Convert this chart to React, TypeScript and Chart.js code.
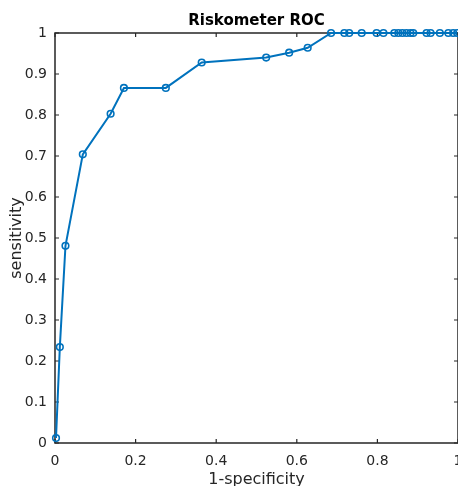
import React, { useEffect, useRef } from "react";
import { Chart, registerables } from "chart.js";

Chart.register(...registerables);

const fpr = [0.0025, 0.012, 0.026, 0.069, 0.138, 0.171, 0.275, 0.364, 0.524, 0.581, 0.627, 0.685, 0.718, 0.73, 0.761, 0.798, 0.815, 0.842, 0.852, 0.862, 0.872, 0.882, 0.889, 0.922, 0.932, 0.955, 0.976, 0.988, 0.998];
const tpr = [0.012, 0.234, 0.481, 0.704, 0.803, 0.866, 0.866, 0.928, 0.94, 0.952, 0.964, 1, 1, 1, 1, 1, 1, 1, 1, 1, 1, 1, 1, 1, 1, 1, 1, 1, 1];
const xTicks = [0, 0.2, 0.4, 0.6, 0.8, 1];
const yTicks = [0, 0.1, 0.2, 0.3, 0.4, 0.5, 0.6, 0.7, 0.8, 0.9, 1];
const titleText = "Riskometer ROC";
const xTitle = "1-specificity";
const yTitle = "sensitivity";

const AXIS = "#262626";
const BLUE = "#0072BD";
const FONT = "'DejaVu Sans', sans-serif";

const boxPlugin = {
  id: "matlabBox",
  beforeDatasetsDraw(chart: any) {
    const { ctx, chartArea } = chart;
    const xs = chart.scales.x;
    const ys = chart.scales.y;
    const { left, right, top, bottom } = chartArea;
    ctx.save();
    ctx.strokeStyle = AXIS;
    ctx.lineWidth = 1.5;
    ctx.beginPath();
    ctx.rect(left, top, right - left, bottom - top);
    ctx.stroke();
    ctx.lineWidth = 1.2;
    const tl = 4;
    ctx.beginPath();
    xTicks.forEach((v) => {
      const px = xs.getPixelForValue(v);
      ctx.moveTo(px, bottom);
      ctx.lineTo(px, bottom - tl);
      ctx.moveTo(px, top);
      ctx.lineTo(px, top + tl);
    });
    yTicks.forEach((v) => {
      const py = ys.getPixelForValue(v);
      ctx.moveTo(left, py);
      ctx.lineTo(left + tl, py);
      ctx.moveTo(right, py);
      ctx.lineTo(right - tl, py);
    });
    ctx.stroke();
    ctx.restore();
  },
};

export default function App() {
  const ref = useRef<HTMLCanvasElement>(null);
  useEffect(() => {
    if (!ref.current) return;
    const points = fpr.map((x, i) => ({ x, y: tpr[i] }));
    const chart = new Chart(ref.current, {
      type: "scatter",
      data: {
        datasets: [
          {
            data: points,
            showLine: true,
            borderColor: BLUE,
            borderWidth: 2,
            pointRadius: 3.3,
            pointBorderWidth: 1.6,
            pointBorderColor: BLUE,
            pointBackgroundColor: "rgba(0,0,0,0)",
            clip: false as any,
          },
        ],
      },
      options: {
        animation: false,
        responsive: false,
        maintainAspectRatio: false,
        layout: { padding: 0, autoPadding: false },
        plugins: {
          legend: { display: false },
          tooltip: { enabled: false },
          title: {
            display: true,
            fullSize: false,
            text: titleText,
            color: "#000",
            font: { family: FONT, size: 15, weight: "bold" },
            padding: { top: 12, bottom: 3 },
          },
        },
        scales: {
          x: {
            type: "linear",
            min: 0,
            max: 1,
            grid: { display: false, drawTicks: false },
            border: { display: false },
            afterBuildTicks(scale: any) {
              scale.ticks = xTicks.map((v) => ({ value: v }));
            },
            afterFit(scale: any) {
              scale.height = 43;
              scale.paddingLeft = 0;
              scale.paddingRight = 0;
            },
            ticks: {
              color: AXIS,
              font: { family: FONT, size: 14 },
              padding: 10,
              maxRotation: 0,
              callback: (v: any) => String(v),
            },
            title: {
              display: true,
              text: xTitle,
              color: AXIS,
              font: { family: FONT, size: 16 },
              padding: { top: 0, bottom: -3 },
            },
          },
          y: {
            type: "linear",
            min: 0,
            max: 1,
            grid: { display: false, drawTicks: false },
            border: { display: false },
            afterBuildTicks(scale: any) {
              scale.ticks = yTicks.map((v) => ({ value: v }));
            },
            afterFit(scale: any) {
              scale.width = 55;
              scale.paddingTop = 0;
              scale.paddingBottom = 0;
            },
            ticks: {
              color: AXIS,
              font: { family: FONT, size: 14 },
              padding: 8,
              callback: (v: any) => String(v),
            },
            title: {
              display: true,
              text: yTitle,
              color: AXIS,
              font: { family: FONT, size: 16 },
              padding: { top: 7, bottom: 0 },
            },
          },
        },
      },
      plugins: [boxPlugin],
    });
    return () => chart.destroy();
  }, []);
  return (
    <div style={{ position: "fixed", left: 0, top: 0, width: 458, height: 486, background: "#fff", overflow: "hidden" }}>
      <canvas ref={ref} width={458} height={486} style={{ width: 458, height: 486, display: "block" }} />
    </div>
  );
}
